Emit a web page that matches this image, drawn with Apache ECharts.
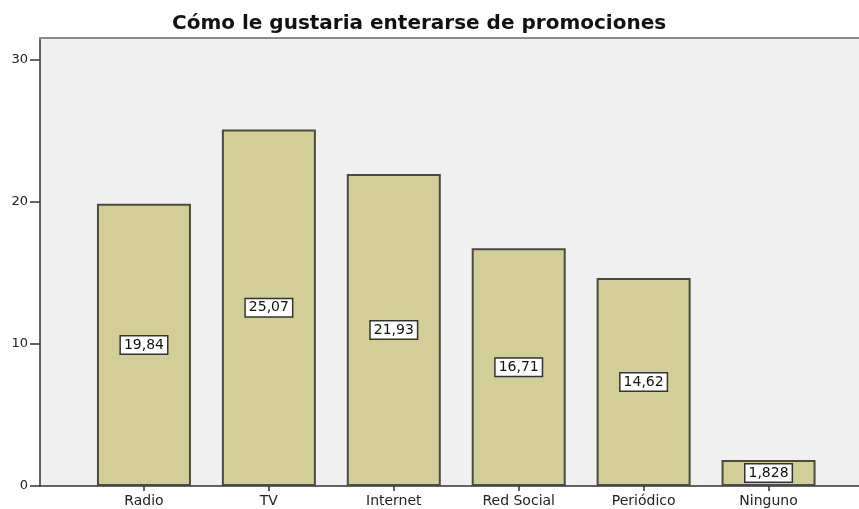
<!DOCTYPE html>
<html>
<head>
<meta charset="utf-8">
<script src="https://cdn.jsdelivr.net/npm/echarts@6/dist/echarts.min.js"></script>
<style>html,body{margin:0;padding:0;background:#fff;}#c{width:859px;height:509px;}</style>
</head>
<body>
<div id="c"></div>
<script>
const titleText = 'Cómo le gustaria enterarse de promociones';
const categories = ['Radio', 'TV', 'Internet', 'Red Social', 'Periódico', 'Ninguno'];
const values = [19.84, 25.07, 21.93, 16.71, 14.62, 1.828];
const valueLabels = ['19,84', '25,07', '21,93', '16,71', '14,62', '1,828'];
const yTicks = [0, 10, 20, 30];

const chart = echarts.init(document.getElementById('c'), null, {renderer: 'canvas'});
const font = 'DejaVu Sans';
chart.setOption({
  animation: false,
  backgroundColor: '#ffffff',
  title: {
    text: titleText,
    left: 172,
    top: 14,
    padding: 0,
    textStyle: {fontFamily: font, fontSize: 20, fontWeight: 'bold', color: '#111'}
  },
  grid: [
    {left: 40, right: 0, top: 38, bottom: 23, show: true, backgroundColor: '#f0f0f0', borderWidth: 0},
    {left: 81.5, right: 28, top: 38, bottom: 23}
  ],
  xAxis: [
    {gridIndex: 0, type: 'value', min: 0, max: 1, position: 'bottom',
     axisLine: {show: true, lineStyle: {color: '#333', width: 1.5}},
     axisTick: {show: false}, axisLabel: {show: false}, splitLine: {show: false}},
    {gridIndex: 0, type: 'value', min: 0, max: 1, position: 'top',
     axisLine: {show: true, lineStyle: {color: '#8a8a8a', width: 2}},
     axisTick: {show: false}, axisLabel: {show: false}, splitLine: {show: false}},
    {gridIndex: 1, type: 'category', data: categories, position: 'bottom',
     axisLine: {show: false},
     axisTick: {show: true, alignWithLabel: true, length: 5, lineStyle: {color: '#333', width: 1.5}},
     axisLabel: {fontFamily: font, fontSize: 14, color: '#222', margin: 8},
     splitLine: {show: false}}
  ],
  yAxis: [
    {gridIndex: 0, type: 'value', min: 0, max: 31.5, interval: 10,
     axisLine: {show: true, lineStyle: {color: '#333', width: 1.5}},
     axisTick: {show: true, length: 10, customValues: yTicks, lineStyle: {color: '#333', width: 1.5}},
     axisLabel: {customValues: yTicks, fontFamily: font, fontSize: 13, color: '#222', margin: 12},
     splitLine: {show: false}},
    {gridIndex: 1, type: 'value', min: 0, max: 31.5, show: false}
  ],
  series: [{
    type: 'bar',
    xAxisIndex: 2,
    yAxisIndex: 1,
    data: values,
    barWidth: 94,
    itemStyle: {color: '#d3cd97', borderColor: '#4a4a40', borderWidth: 2},
    label: {
      show: true,
      position: 'inside',
      formatter: p => valueLabels[p.dataIndex],
      fontFamily: font,
      fontSize: 14,
      color: '#111',
      backgroundColor: '#ffffff',
      borderColor: '#333',
      borderWidth: 1.5,
      padding: [2, 3, 1, 3]
    }
  }]
});
</script>
</body>
</html>
